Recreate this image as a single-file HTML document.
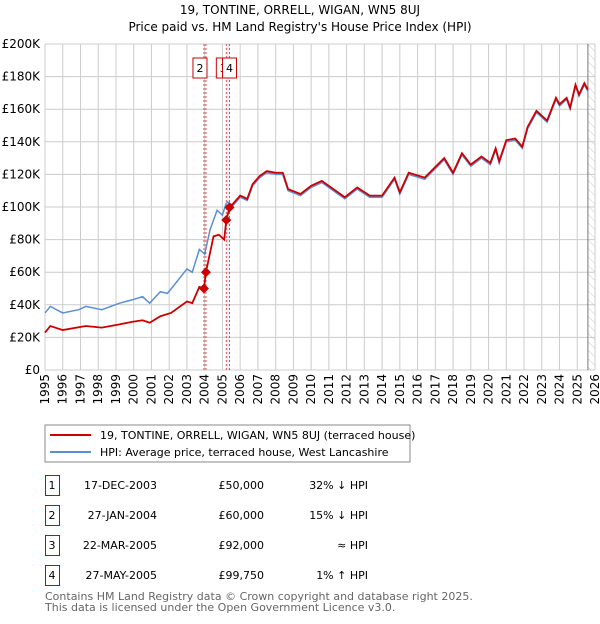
<!DOCTYPE html>
<html><head><meta charset="utf-8"><style>
body{margin:0;background:#fff;font-family:"DejaVu Sans","Liberation Sans",sans-serif;}
svg text{font-family:"DejaVu Sans","Liberation Sans",sans-serif;}
</style></head><body>
<svg id="c" width="600" height="620" xmlns="http://www.w3.org/2000/svg">
<defs><pattern id="hatch" width="6" height="6" patternUnits="userSpaceOnUse" patternTransform="rotate(-45)"><line x1="0" y1="0" x2="0" y2="6" stroke="#ccc" stroke-width="1"/></pattern></defs>
<text x="300" y="14" text-anchor="middle" font-size="12">19, TONTINE, ORRELL, WIGAN, WN5 8UJ</text>
<text x="300" y="31" text-anchor="middle" font-size="12">Price paid vs. HM Land Registry's House Price Index (HPI)</text>
<g id="grid"></g><g id="marks"></g><g id="axes"></g>
<rect x="45" y="425" width="365" height="37" fill="#fff" stroke="#888"/>
<line x1="50" y1="435" x2="91" y2="435" stroke="#cc0000" stroke-width="2"/>
<text x="100" y="439" font-size="11">19, TONTINE, ORRELL, WIGAN, WN5 8UJ (terraced house)</text>
<line x1="50" y1="452" x2="91" y2="452" stroke="#5b8fd4" stroke-width="2"/>
<text x="100" y="456" font-size="11">HPI: Average price, terraced house, West Lancashire</text>
<g id="table" font-size="11"></g>
<text x="45" y="600" font-size="11" fill="#666">Contains HM Land Registry data © Crown copyright and database right 2025.</text>
<text x="45" y="611" font-size="11" fill="#666">This data is licensed under the Open Government Licence v3.0.</text>
</svg>
<script>
const yTicks=[0,20,40,60,80,100,120,140,160,180,200];
const yLabels=["£0","£20K","£40K","£60K","£80K","£100K","£120K","£140K","£160K","£180K","£200K"];
const xYears=[1995,1996,1997,1998,1999,2000,2001,2002,2003,2004,2005,2006,2007,2008,2009,2010,2011,2012,2013,2014,2015,2016,2017,2018,2019,2020,2021,2022,2023,2024,2025,2026];
const hpiDates=[1995,1995.3,1996,1996.9,1997.3,1998.2,1999.2,1999.9,2000.5,2000.9,2001.5,2001.9,2002.2,2003,2003.3,2003.7,2004,2004.3,2004.7,2005.0,2005.2,2005.3,2005.6,2006,2006.4,2006.7,2007.1,2007.5,2008.0,2008.4,2008.7,2009.4,2010,2010.6,2011.9,2012.6,2013.3,2014,2014.7,2015,2015.5,2016.4,2017.5,2018,2018.5,2019,2019.6,2020.1,2020.4,2020.6,2021,2021.5,2021.9,2022.2,2022.7,2023.3,2023.8,2024,2024.4,2024.6,2024.9,2025.1,2025.4,2025.6];
const hpiValues=[35,39,35,37,39,37,41,43,45,41,48,47,51,62,60,74,71,86,98,95,102,103,101,106,104,113,118,121,120,120,110,107,112,115,105,111,106,106,117,108,120,117,129,120,132,125,130,126,135,127,140,141,136,148,158,152,166,162,166,160,174,168,175,171];
const saleDates=[1995,1995.3,1996,1997.3,1998.2,1999.2,1999.9,2000.5,2000.9,2001.5,2002.1,2003,2003.3,2003.7,2003.96,2004.07,2004.5,2004.8,2005.1,2005.22,2005.4,2005.6,2006,2006.4,2006.7,2007.1,2007.5,2008.0,2008.4,2008.7,2009.4,2010,2010.6,2011.9,2012.6,2013.3,2014,2014.7,2015,2015.5,2016.4,2017.5,2018,2018.5,2019,2019.6,2020.1,2020.4,2020.6,2021,2021.5,2021.9,2022.2,2022.7,2023.3,2023.8,2024,2024.4,2024.6,2024.9,2025.1,2025.4,2025.6];
const saleValues=[23,27,24.5,27,26,28,29.5,30.5,29,33,35,42,41,51,50,60,82,83,80,92,99.75,102,107,105,114,119,122,121,121,111,108,113,116,106,112,107,107,118,109,121,118,130,121,133,126,131,127,136,128,141,142,137,149,159,153,167,163,167,161,175,169,176,172];
const sales=[{n:"1",d:2003.96,v:50,date:"17-DEC-2003",p:"£50,000",h:"32% ↓ HPI"},{n:"2",d:2004.07,v:60,date:"27-JAN-2004",p:"£60,000",h:"15% ↓ HPI"},{n:"3",d:2005.22,v:92,date:"22-MAR-2005",p:"£92,000",h:"≈ HPI"},{n:"4",d:2005.4,v:99.75,date:"27-MAY-2005",p:"£99,750",h:"1% ↑ HPI"}];
const NS="http://www.w3.org/2000/svg";
const X0=45,X1=595,Y0=370,Y1=44;
const xs=d=>X0+(d-1995)/31*(X1-X0);
const ys=v=>Y0-v/200*(Y0-Y1);
function mk(p,t,a){const e=document.createElementNS(NS,t);for(const k in a)e.setAttribute(k,a[k]);p.appendChild(e);return e;}
const grid=document.getElementById('grid'),marks=document.getElementById('marks'),axes=document.getElementById('axes'),tbl=document.getElementById('table');
mk(grid,'rect',{x:xs(2025.6),y:Y1,width:X1-xs(2025.6),height:Y0-Y1,fill:'url(#hatch)'});
mk(grid,'rect',{x:xs(2005.22),y:Y1,width:xs(2005.4)-xs(2005.22),height:Y0-Y1,fill:'#e6eefa'});
yTicks.forEach((t,i)=>{
 const l=mk(grid,'line',{x1:X0,x2:X1,y1:ys(t),y2:ys(t),stroke:'#ccc'});
 
 
 const tx=mk(axes,'text',{x:40,y:ys(t)+4,'text-anchor':'end','font-size':12});
 tx.textContent=yLabels[i];
 
 
});
xYears.forEach(yr=>{
 const l=mk(grid,'line',{x1:xs(yr),x2:xs(yr),y1:Y1,y2:Y0,stroke:'#ccc'});
 
 
 const x=xs(yr)+4,y=374;
 const tx=mk(axes,'text',{x:x,y:y,'text-anchor':'end','font-size':12,transform:`rotate(-90 ${x} ${y})`});
 tx.textContent=yr;
 
 
});
mk(grid,'line',{x1:xs(2025.6),x2:xs(2025.6),y1:Y1,y2:Y0,stroke:'#777'});
sales.forEach(s=>{
 const l=mk(marks,'line',{x1:xs(s.d),x2:xs(s.d),y1:Y1,y2:Y0,stroke:'#e05050','stroke-dasharray':'2,2'});
 
 
});
const hp=mk(marks,'polyline',{points:hpiDates.map((d,i)=>xs(d)+','+ys(hpiValues[i])).join(' '),fill:'none',stroke:'#5b8fd4','stroke-width':1.5});


const sp=mk(marks,'polyline',{points:saleDates.map((d,i)=>xs(d)+','+ys(saleValues[i])).join(' '),fill:'none',stroke:'#cc0000','stroke-width':1.8});


sales.forEach(s=>{
 const x=xs(s.d),y=ys(s.v);
 const p=mk(marks,'polygon',{points:`${x},${y-5} ${x+5},${y} ${x},${y+5} ${x-5},${y}`,fill:'#cc0000'});
 
 
});
[["2",2003.96,-11],["3",2005.22,-10],["4",2005.4,-7]].forEach(b=>{
 const x=xs(b[1])+b[2];
 const r=mk(marks,'rect',{x:x,y:58,width:14,height:20,fill:'#fff',stroke:'#cc0000'});
 
 
 const t=mk(marks,'text',{x:x+7,y:72,'text-anchor':'middle','font-size':11});
 t.textContent=b[0];
 
 
});
sales.forEach((s,i)=>{
 const y=475+i*30;
 const r=mk(tbl,'rect',{x:45.5,y:y+0.5,width:14,height:20,fill:'none',stroke:'#cc0000'});
 
 
 const cells=[[s.n,52,'middle'],[s.date,157,'end'],[s.p,264,'end'],[s.h,368,'end']];
 cells.forEach(c=>{
  const t=mk(tbl,'text',{x:c[1],y:y+14,'text-anchor':c[2]});
  t.textContent=c[0];
  
  
 });
});
</script>
</body></html>
